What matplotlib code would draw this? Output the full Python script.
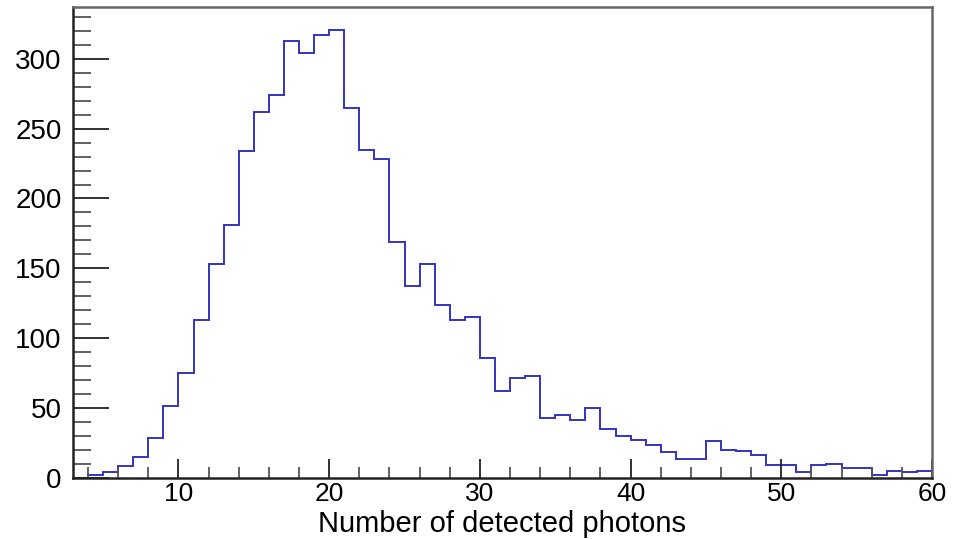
import matplotlib
matplotlib.use("Agg")
import matplotlib.pyplot as plt
import numpy as np
from matplotlib.ticker import MultipleLocator

# Bin edges: integer photon counts from 3 to 60
bin_edges = list(range(3, 61))
counts = [0, 2, 4, 8, 15, 28, 51, 75, 113, 153,
          181, 234, 262, 274, 313, 304, 317, 321, 265, 235,
          228, 169, 137, 153, 124, 113, 115, 86, 62, 71,
          73, 43, 45, 41, 50, 35, 30, 27, 23, 18,
          13, 13, 26, 20, 19, 16, 9, 9, 4, 9,
          10, 7, 7, 2, 5, 4, 5]

plt.rcParams['font.family'] = ['Liberation Sans', 'DejaVu Sans']

fig = plt.figure(figsize=(9.55, 5.39), dpi=100)
ax = fig.add_axes([0.0764, 0.114, 0.8995, 0.8725])

ax.stairs(counts, bin_edges, color='#3333c0', linewidth=1.4)

ax.set_xlim(3, 60)
ax.set_ylim(0, 337)

ax.xaxis.set_major_locator(MultipleLocator(10))
ax.xaxis.set_minor_locator(MultipleLocator(2))
ax.yaxis.set_major_locator(MultipleLocator(50))
ax.yaxis.set_minor_locator(MultipleLocator(10))

ax.tick_params(axis='both', which='both', direction='in', top=False, right=False,
               color='#222222', width=1.3)
ax.tick_params(axis='y', which='major', length=26, labelsize=20, pad=8)
ax.tick_params(axis='y', which='minor', length=13, color='#555555')
ax.tick_params(axis='x', which='major', length=14, labelsize=19, pad=3)
ax.tick_params(axis='x', which='minor', length=8, color='#555555')

for side in ['left', 'bottom']:
    ax.spines[side].set_linewidth(1.8)
    ax.spines[side].set_color('#222222')
for side in ['top', 'right']:
    ax.spines[side].set_linewidth(1.8)
    ax.spines[side].set_color('#666666')

ax.set_xlabel('Number of detected photons', fontsize=21)
ax.xaxis.set_label_coords(0.5, -0.068)

fig.savefig('out.png', dpi=100)
